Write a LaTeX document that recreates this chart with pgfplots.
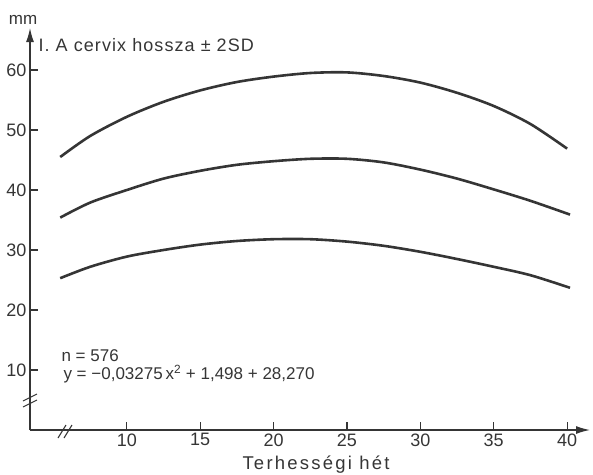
\documentclass[border=0pt]{standalone}
\usepackage{pgfplots}
\pgfplotsset{compat=1.18}
\usepackage{fontspec}
\setmainfont{Liberation Sans}
\newfontfamily\spacedA[LetterSpace=12]{Liberation Sans}
\newfontfamily\spacedB[LetterSpace=6]{Liberation Sans}
\usetikzlibrary{arrows.meta}
\definecolor{ink}{HTML}{353535}
\begin{document}
\begin{tikzpicture}
\path[use as bounding box] (-30pt,-44pt) rectangle (563pt,430pt);
\begin{axis}[
  scale only axis, width=560pt, height=402pt,
  xmin=3.4, xmax=41.56, ymin=0, ymax=67,
  enlargelimits=false,
  axis lines=left,
  axis line style={line width=1.3pt, color=ink, -{Latex[length=14pt,width=8pt]}},
  xtick={10,15,...,40}, ytick={10,20,...,60},
  tick align=inside, major tick length=8pt,
  tick style={line width=1.1pt, color=ink},
  ticklabel style={font=\fontsize{18}{21}\selectfont, text=ink},
  /pgf/number format/assume math mode=true,
  clip=false,
]
% upper (+2SD)
\addplot[ink, line width=2.6pt, smooth] coordinates {
 (5.46,45.5) (7.5,49.0) (10,52.2) (12.5,54.7) (15,56.6) (17.5,58.0) (20,58.9)
 (22.5,59.5) (25,59.6) (27.5,59.0) (30,57.9) (32.5,56.2) (35,54.0) (37.5,51.0)
 (40,46.9)
};
% mean
\addplot[ink, line width=2.6pt, smooth] coordinates {
 (5.46,35.4) (7.5,37.9) (10,40.0) (12.5,41.9) (15,43.2) (17.5,44.2) (20,44.8)
 (22.5,45.2) (25,45.2) (27.5,44.6) (30,43.4) (32.5,41.9) (35,40.1) (37.5,38.2)
 (40.2,35.9)
};
% lower (-2SD)
\addplot[ink, line width=2.6pt, smooth] coordinates {
 (5.46,25.3) (7.5,27.2) (10,28.9) (12.5,30.0) (15,30.9) (17.5,31.5) (20,31.8)
 (22.5,31.8) (25,31.4) (27.5,30.7) (30,29.7) (32.5,28.5) (35,27.2) (37.5,25.8)
 (40.2,23.7)
};
\end{axis}
% axis break marks
\draw[ink, line width=1.1pt] (-7pt,23pt) -- (7pt,30pt);
\draw[ink, line width=1.1pt] (-7pt,29pt) -- (7pt,36pt);
\draw[ink, line width=1.1pt] (28pt,-8pt) -- (36pt,5pt);
\draw[ink, line width=1.1pt] (34pt,-8pt) -- (42pt,5pt);
% texts
\node[text=ink, font=\fontsize{17}{20}\selectfont] at (-7pt,410pt) {mm};
\node[text=ink, font=\spacedB\fontsize{18}{21}\selectfont, anchor=west] at (5pt,385pt) {I. A cervix hossza ± 2SD};
\node[text=ink, font=\fontsize{17}{20}\selectfont, anchor=west] at (28pt,74pt) {n = 576};
\node[text=ink, font=\fontsize{17}{20}\selectfont, anchor=west] at (30pt,56pt) {y = −0,03275\,x\textsuperscript{2} + 1,498 + 28,270};
\node[text=ink, font=\spacedA\fontsize{18.5}{21}\selectfont] at (286pt,-35pt) {Terhességi hét};
\end{tikzpicture}
\end{document}
